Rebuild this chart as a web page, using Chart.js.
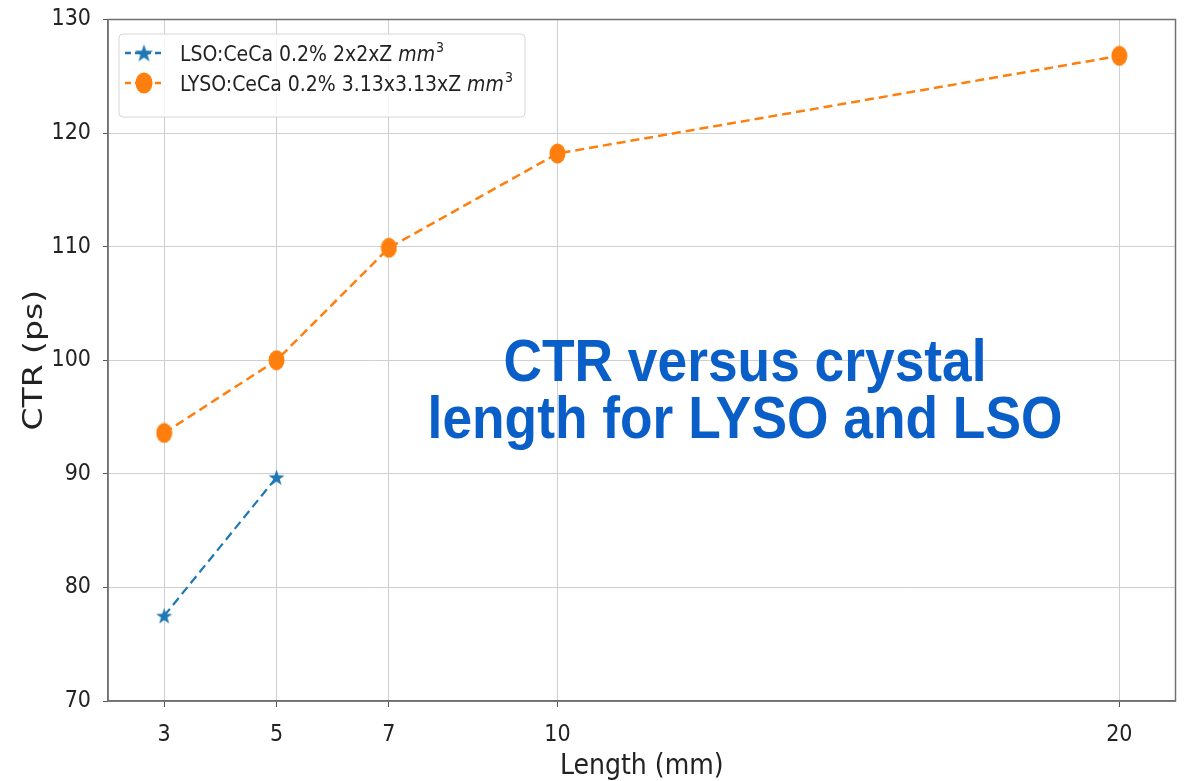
<!DOCTYPE html>
<html lang="en">
<head>
<meta charset="UTF-8">
<title>CTR versus crystal length</title>
<script src="https://cdn.jsdelivr.net/npm/chart.js"></script>
<style>
    body { margin: 0; background: #ffffff; }
    #wrap { width: 1188px; height: 781px; position: relative; }
</style>
</head>
<body>
<div id="wrap"><canvas id="ctrChart"></canvas></div>
<script>
// data
const xTicks = [3, 5, 7, 10, 20];
const lsoLength = [3, 5];
const lsoCTR = [77.5, 89.7];
const lysoLength = [3, 5, 7, 10, 20];
const lysoCTR = [93.6, 100.0, 109.9, 118.2, 126.8];

const BLUE = '#1f77b4';
const ORANGE = '#ff7f0e';
const COND = '"DejaVu Sans Condensed", "DejaVu Sans", sans-serif';
const SANS = '"DejaVu Sans", sans-serif';

// filled star marker (matplotlib '*')
function makeStar(size, color) {
    const c = document.createElement('canvas');
    c.width = size; c.height = size;
    const g = c.getContext('2d');
    const cx = size / 2, cy = size / 2 + 0.8, R = size / 2, r = R * 0.4;
    g.beginPath();
    for (let i = 0; i < 10; i++) {
        const rad = i % 2 === 0 ? R : r;
        const a = -Math.PI / 2 + i * Math.PI / 5;
        g.lineTo(cx + rad * Math.cos(a), cy + rad * Math.sin(a));
    }
    g.closePath();
    g.fillStyle = color;
    g.fill();
    return c;
}

// slightly tall ellipse marker (the source image is stretched)
function makeDot(w, h, color) {
    const c = document.createElement('canvas');
    c.width = w; c.height = h;
    const g = c.getContext('2d');
    g.beginPath();
    g.ellipse(w / 2, h / 2, w / 2 - 0.5, h / 2 - 0.5, 0, 0, Math.PI * 2);
    g.fillStyle = color;
    g.fill();
    return c;
}

const starImg = makeStar(17, BLUE);
const dotImg = makeDot(17, 21, ORANGE);
const legendStar = makeStar(19, BLUE);
const legendDot = makeDot(18, 22, ORANGE);

const toPoints = (xs, ys) => xs.map((x, i) => ({ x: x, y: ys[i] }));

// frame on all four sides, y title, legend and the big annotation
const extras = {
    id: 'extras',
    afterDraw(chart) {
        const ctx = chart.ctx;
        const a = chart.chartArea;
        ctx.save();
        ctx.strokeStyle = '#707070';
        ctx.lineWidth = 1.5;
        ctx.strokeRect(a.left, a.top, a.right - a.left, a.bottom - a.top);

        // y axis title, stretched like the source
        ctx.save();
        ctx.translate(35, (a.top + a.bottom) / 2);
        ctx.rotate(-Math.PI / 2);
        ctx.scale(1.27, 1);
        ctx.fillStyle = '#222';
        ctx.font = '26px ' + SANS;
        ctx.textAlign = 'center';
        ctx.textBaseline = 'middle';
        ctx.fillText('CTR (ps)', 0, 0);
        ctx.restore();

        // legend box
        const bx = 119, by = 34, bw = 406, bh = 83;
        ctx.beginPath();
        ctx.roundRect(bx, by, bw, bh, 4);
        ctx.fillStyle = 'rgba(255,255,255,0.8)';
        ctx.fill();
        ctx.strokeStyle = '#d6d6d6';
        ctx.lineWidth = 1;
        ctx.stroke();

        const rows = [
            { ds: chart.data.datasets[0], img: legendStar, y: 53, text: 'LSO:CeCa 0.2% 2x2xZ ' },
            { ds: chart.data.datasets[1], img: legendDot, y: 83, text: 'LYSO:CeCa 0.2% 3.13x3.13xZ ' }
        ];
        rows.forEach(r => {
            ctx.strokeStyle = r.ds.borderColor;
            ctx.lineWidth = 2.5;
            ctx.setLineDash([6, 4]);
            ctx.beginPath();
            ctx.moveTo(125, r.y);
            ctx.lineTo(164, r.y);
            ctx.stroke();
            ctx.setLineDash([]);
            ctx.drawImage(r.img, 144 - r.img.width / 2, r.y - r.img.height / 2);

            ctx.fillStyle = '#222';
            ctx.textBaseline = 'alphabetic';
            ctx.textAlign = 'left';
            ctx.font = '21px ' + COND;
            let x = 180;
            const base = r.y + 8;
            ctx.fillText(r.text, x, base);
            x += ctx.measureText(r.text).width;
            ctx.font = 'italic 21px ' + COND;
            ctx.fillText('mm', x, base);
            x += ctx.measureText('mm').width + 1;
            ctx.font = '14px ' + COND;
            ctx.fillText('3', x, base - 9);
        });

        // annotation, scaled to the source's text block
        ctx.fillStyle = '#0a5ec8';
        ctx.font = 'bold 50px "Liberation Sans", Arial, sans-serif';
        ctx.textAlign = 'center';
        const lines = ['CTR versus crystal', 'length for LYSO and LSO'];
        const sx = 483 / ctx.measureText(lines[0]).width;
        lines.forEach((line, i) => {
            ctx.save();
            ctx.translate(745, 381 + i * 57);
            ctx.scale(sx, 1.17);
            ctx.fillText(line, 0, 0);
            ctx.restore();
        });
        ctx.restore();
    }
};

new Chart(document.getElementById('ctrChart'), {
    type: 'line',
    data: {
        datasets: [
            {
                label: 'LSO:CeCa 0.2% 2x2xZ mm³',
                data: toPoints(lsoLength, lsoCTR),
                borderColor: BLUE,
                backgroundColor: BLUE,
                borderWidth: 2.2,
                borderDash: [9, 5],
                pointStyle: starImg,
                pointRadius: 9,
                pointHoverRadius: 9
            },
            {
                label: 'LYSO:CeCa 0.2% 3.13x3.13xZ mm³',
                data: toPoints(lysoLength, lysoCTR),
                borderColor: ORANGE,
                backgroundColor: ORANGE,
                borderWidth: 2.5,
                borderDash: [9, 5],
                pointStyle: dotImg,
                pointRadius: 10,
                pointHoverRadius: 10
            }
        ]
    },
    options: {
        responsive: true,
        maintainAspectRatio: false,
        animation: false,
        layout: { padding: { left: 0, top: 19.5, right: 7, bottom: 0 } },
        plugins: {
            legend: { display: false },
            tooltip: { enabled: false }
        },
        scales: {
            x: {
                type: 'linear',
                min: 2,
                max: 21,
                afterBuildTicks: s => { s.ticks = xTicks.map(v => ({ value: v })); },
                afterFit: s => { s.height = 80; s.paddingLeft = 0; s.paddingRight = 0; },
                grid: { color: '#cfcfcf', lineWidth: 1, tickLength: 6, tickColor: '#555' },
                border: { color: '#707070', width: 1.5 },
                ticks: { color: '#222', font: { family: COND, size: 23 }, padding: 14, maxRotation: 0 },
                title: {
                    display: true,
                    text: 'Length (mm)',
                    color: '#222',
                    font: { family: COND, size: 28 },
                    padding: { top: 0, bottom: -3 }
                }
            },
            y: {
                min: 70,
                max: 130,
                afterFit: s => { s.width = 108; s.paddingTop = 0; s.paddingBottom = 0; },
                grid: { color: '#cfcfcf', lineWidth: 1, tickLength: 5, tickColor: '#555' },
                border: { color: '#707070', width: 1.5 },
                ticks: { stepSize: 10, color: '#222', font: { family: COND, size: 23 }, padding: 12 },
                title: { display: false }
            }
        }
    },
    plugins: [extras]
});
</script>
</body>
</html>
